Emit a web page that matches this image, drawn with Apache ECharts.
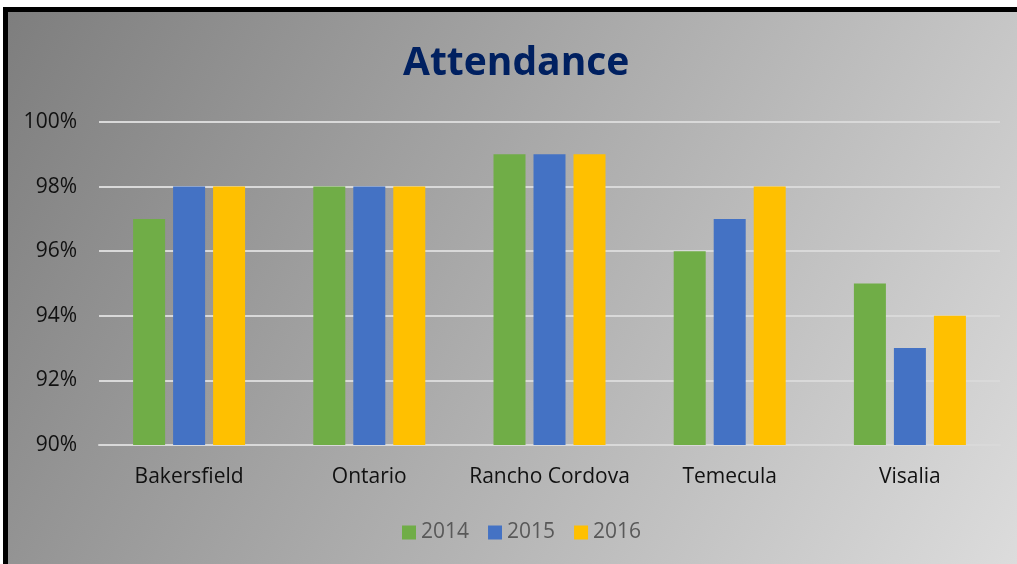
<!DOCTYPE html>
<html>
<head>
<meta charset="utf-8">
<script src="https://cdn.jsdelivr.net/npm/echarts@6/dist/echarts.min.js"></script>
<style>
  html, body { margin: 0; padding: 0; background: #fff; }
  #frame {
    position: absolute; left: 3px; top: 7px;
    width: 1009px; height: 552px;
    border-left: 5px solid #000; border-top: 5px solid #000;
  }
  #chart { width: 1009px; height: 552px; }
</style>
</head>
<body>
<div id="frame"><div id="chart"></div></div>
<script>
  // data (percent)
  var sites = ['Bakersfield', 'Ontario', 'Rancho Cordova', 'Temecula', 'Visalia'];
  var years = ['2014', '2015', '2016'];
  var att2014 = [97, 98, 99, 96, 95];
  var att2015 = [98, 98, 99, 97, 93];
  var att2016 = [98, 98, 99, 98, 94];
  var colors = ['#70ad47', '#4472c4', '#ffc000'];

  var font = 'Open Sans, Liberation Sans, sans-serif';
  var myChart = echarts.init(document.getElementById('chart'));

  function bar(name, data, i) {
    return {
      name: name,
      type: 'bar',
      barWidth: 32,
      barGap: '25%',
      itemStyle: { color: colors[i] },
      data: data
    };
  }

  var option = {
    backgroundColor: new echarts.graphic.LinearGradient(0, 0, 1, 1, [
      { offset: 0, color: '#7e7e7e' },
      { offset: 1, color: '#dcdcdc' }
    ]),
    animation: false,
    title: {
      text: 'Attendance',
      left: 390,
      top: 27,
      textStyle: { color: '#002060', fontSize: 39, fontWeight: 'bold', fontFamily: font }
    },
    legend: {
      data: years,
      left: 389,
      bottom: 16,
      itemWidth: 14,
      itemHeight: 14,
      itemGap: 19,
      icon: 'rect',
      textStyle: { color: '#595959', fontSize: 21, fontFamily: font }
    },
    grid: { left: 91, right: 17, top: 110, bottom: 119 },
    xAxis: {
      type: 'category',
      data: sites,
      axisLine: { show: true, lineStyle: { color: '#d9d9d9', width: 2 } },
      axisTick: { show: false },
      axisLabel: { interval: 0, color: '#111', fontSize: 21, margin: 22, fontFamily: font }
    },
    yAxis: {
      type: 'value',
      min: 90,
      max: 100,
      interval: 2,
      axisLine: { show: false },
      axisTick: { show: false },
      axisLabel: { formatter: '{value}%', color: '#111', fontSize: 21, margin: 22, fontFamily: font },
      splitLine: { lineStyle: { color: '#d9d9d9', width: 2 } }
    },
    series: [
      bar('2014', att2014, 0),
      bar('2015', att2015, 1),
      bar('2016', att2016, 2)
    ]
  };
  myChart.setOption(option);
</script>
</body>
</html>
